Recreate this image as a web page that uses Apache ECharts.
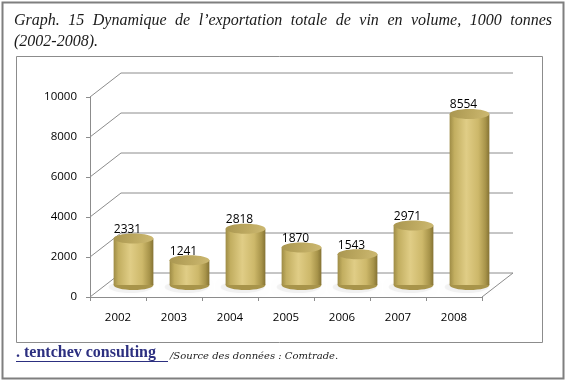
<!DOCTYPE html>
<html><head><meta charset="utf-8">
<script src="https://cdn.jsdelivr.net/npm/echarts@6/dist/echarts.min.js"></script>
<style>html,body{margin:0;padding:0;background:#fff}#c{width:566px;height:381px}</style>
</head><body><div id="c"></div>
<script>
const years = ['2002','2003','2004','2005','2006','2007','2008'];
const exportVolume = [2331, 1241, 2818, 1870, 1543, 2971, 8554];
const yTicks = [0, 2000, 4000, 6000, 8000, 10000];
const titleLine1 = "Graph. 15 Dynamique de l\u2019exportation totale de vin en volume, 1000 tonnes";
const titleLine2 = "(2002-2008).";
const brandText = ". tentchev consulting";
const sourceText = "/Source des donn\u00e9es : Comtrade.";

const DX = 31, DY = -24; // depth offset of back wall
const TITLE_FONT = "italic 16px 'Liberation Serif'";

const cv = document.createElement('canvas').getContext('2d');
cv.font = TITLE_FONT;
function justified(text, x0, x1, y) {
  const words = text.split(' ');
  const widths = words.map(w => cv.measureText(w).width);
  const total = widths.reduce((a, b) => a + b, 0);
  const gap = (x1 - x0 - total) / (words.length - 1);
  let x = x0;
  return words.map((w, i) => {
    const el = { type: 'text', x: x, y: y, style: { text: w, font: TITLE_FONT, fill: '#1a1a1a', textVerticalAlign: 'middle' } };
    x += widths[i] + gap;
    return el;
  });
}

const chart = echarts.init(document.getElementById('c'), null, { renderer: 'canvas' });
const option = {
  animation: false,
  backgroundColor: '#fff',
  grid: { left: 90, right: 84, top: 97, bottom: 84 },
  xAxis: {
    type: 'category', data: years, boundaryGap: true,
    axisLine: { show: true, lineStyle: { color: '#8c8c8c', width: 1 } },
    axisTick: { show: true, length: 4, lineStyle: { color: '#8c8c8c' } },
    axisLabel: { margin: 15, fontFamily: 'Open Sans', fontSize: 11.5, color: '#000' },
    splitLine: { show: false }
  },
  yAxis: {
    type: 'value', min: 0, max: 10000, interval: 2000,
    axisLine: { show: true, lineStyle: { color: '#8c8c8c', width: 1 } },
    axisTick: { show: true, length: 4, lineStyle: { color: '#8c8c8c' } },
    axisLabel: { margin: 13, fontFamily: 'Open Sans', fontSize: 11.5, color: '#000', formatter: v => String(v) },
    splitLine: { show: false }
  },
  series: [
    {
      type: 'custom', name: 'walls', z: 1, silent: true, clip: false,
      data: yTicks.map(v => [0, v]),
      renderItem: function (params, api) {
        const v = api.value(1);
        const band = api.size([1, 0])[0];
        const p0 = api.coord([0, v]);
        const p1 = api.coord([years.length - 1, v]);
        const x0 = p0[0] - band / 2, x1 = p1[0] + band / 2, y = p0[1];
        const pts = [[x0, y], [x0 + DX, y + DY], [x1 + DX, y + DY]];
        if (v === 0) pts.push([x1, y]);
        return { type: 'polyline', shape: { points: pts }, style: { stroke: '#8c8c8c', lineWidth: 1, fill: null } };
      }
    },
    {
      type: 'custom', name: 'export', z: 3, clip: false,
      data: exportVolume.map((v, i) => [i, v]),
      renderItem: function (params, api) {
        const i = api.value(0), v = api.value(1);
        const band = api.size([1, 0])[0];
        const base = api.coord([i, 0]);
        const top = api.coord([i, v]);
        const w = band * 0.71, rx = w / 2, ry = 5;
        const cx = base[0] + DX / 2;
        const by = base[1] + DY / 2;
        const ty = top[1] + DY / 2;
        const bodyGrad = new echarts.graphic.LinearGradient(0, 0, 1, 0, [
          { offset: 0, color: '#9e8c46' },
          { offset: 0.12, color: '#c2ae60' },
          { offset: 0.42, color: '#e0cd86' },
          { offset: 0.72, color: '#cdb86a' },
          { offset: 0.9, color: '#a8944a' },
          { offset: 1, color: '#857334' }
        ]);
        const topGrad = new echarts.graphic.LinearGradient(0, 0, 1, 1, [
          { offset: 0, color: '#a99650' },
          { offset: 0.6, color: '#bfab62' },
          { offset: 1, color: '#cdb972' }
        ]);
        return {
          type: 'group',
          children: [
            { type: 'ellipse', shape: { cx: cx - 3, cy: by + 2, rx: rx + 2, ry: ry + 1 },
              style: { fill: 'rgba(150,150,150,0.10)', shadowBlur: 5, shadowColor: 'rgba(0,0,0,0.15)' } },
            { type: 'ellipse', shape: { cx: cx, cy: by, rx: rx, ry: ry }, style: { fill: '#a8944a' } },
            { type: 'rect', shape: { x: cx - rx, y: ty, width: w, height: by - ty }, style: { fill: bodyGrad } },
            { type: 'ellipse', shape: { cx: cx, cy: ty, rx: rx, ry: ry }, style: { fill: topGrad } },
            { type: 'text', x: cx - 6, y: ty - 9, z2: 10,
              style: { text: String(v), font: "12px 'Open Sans'", fill: '#000', textAlign: 'center', textVerticalAlign: 'middle' } }
          ]
        };
      }
    }
  ],
  graphic: [
    { type: 'rect', shape: { x: 2.5, y: 2.5, width: 561, height: 376 }, style: { fill: null, stroke: '#7f7f7f', lineWidth: 2 }, z: 0 },
    { type: 'rect', shape: { x: 16.5, y: 56.5, width: 526, height: 286 }, style: { fill: null, stroke: '#8c8c8c', lineWidth: 1 }, z: 0 },
    ...justified(titleLine1, 14, 552, 21),
    { type: 'text', x: 14, y: 42, style: { text: titleLine2, font: TITLE_FONT, fill: '#1a1a1a', textVerticalAlign: 'middle' } },
    { type: 'text', x: 16, y: 353, style: { text: brandText, font: "bold 16px 'Liberation Serif'", fill: '#2c2f80', textVerticalAlign: 'middle' } },
    { type: 'line', shape: { x1: 16, y1: 361.5, x2: 168, y2: 361.5 }, style: { stroke: '#2c2f80', lineWidth: 1.2 } },
    { type: 'text', x: 170, y: 356, style: { text: sourceText, font: "italic 10px 'DejaVu Serif'", fill: '#1a1a1a', textVerticalAlign: 'middle' } }
  ]
};
chart.setOption(option);
</script></body></html>
